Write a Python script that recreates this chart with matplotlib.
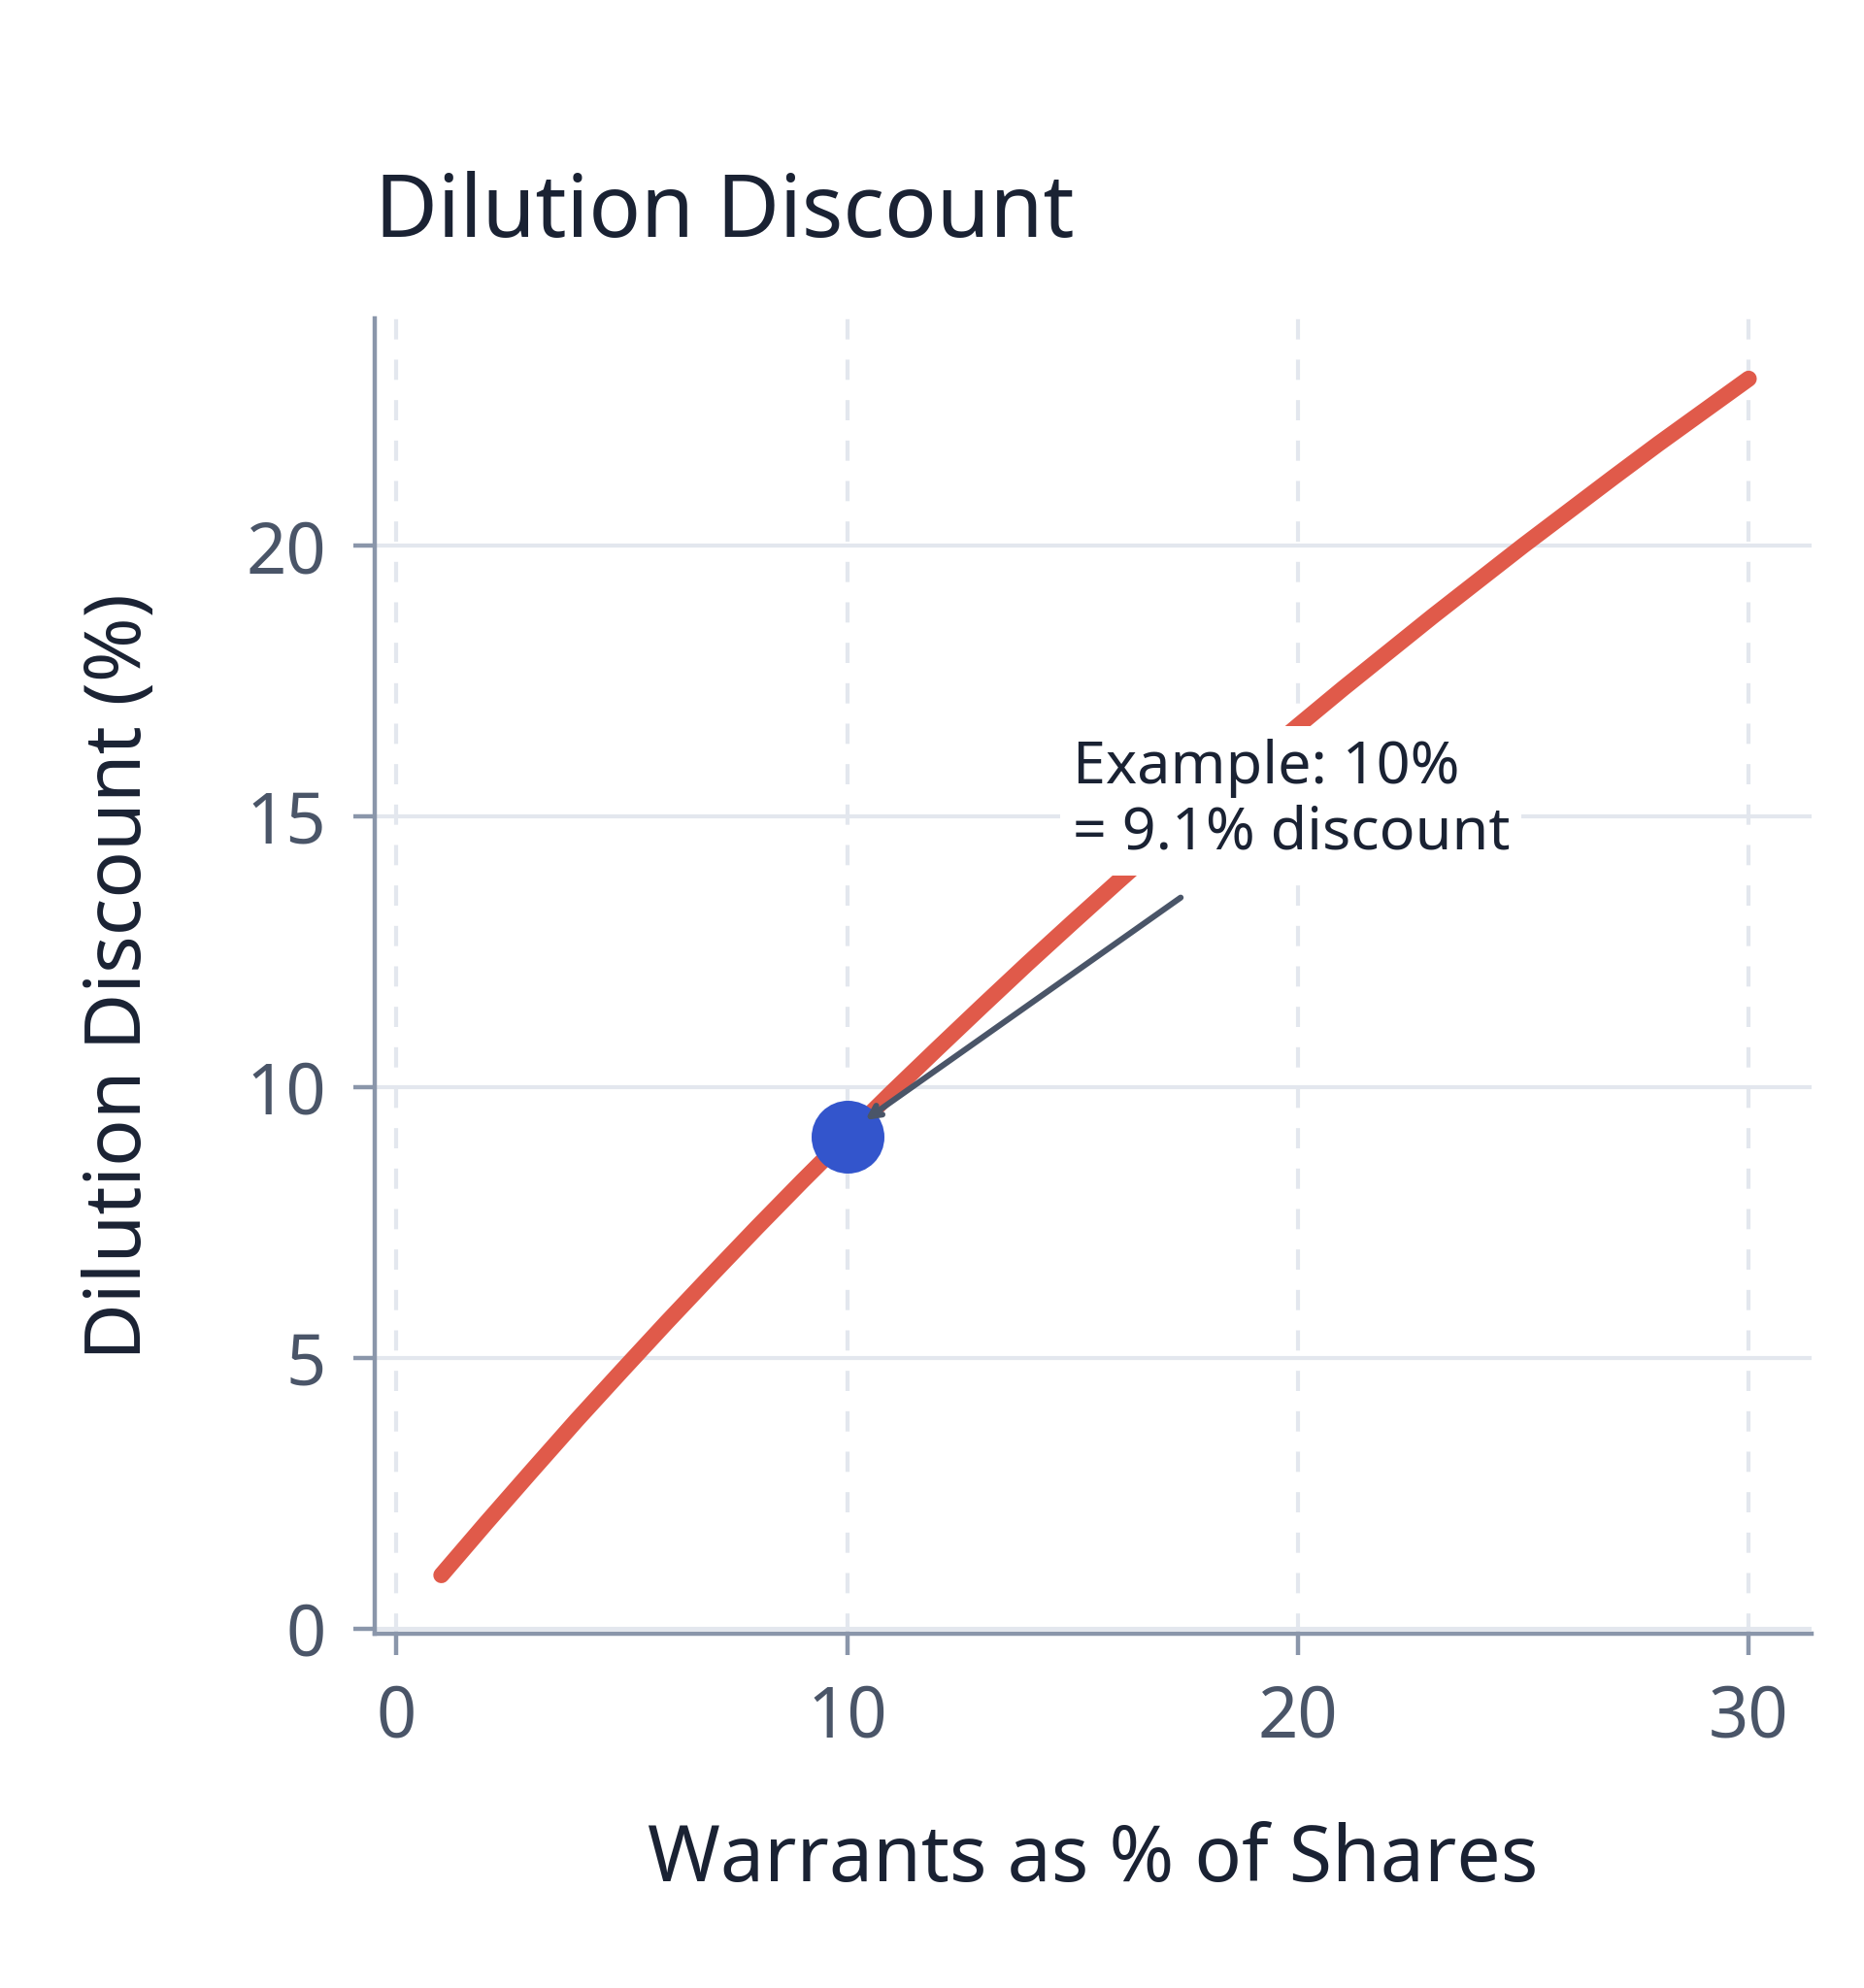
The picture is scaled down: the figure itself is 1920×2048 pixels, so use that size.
import matplotlib.pyplot as plt

plt.rcParams['font.family'] = ['Noto Sans', 'DejaVu Sans']

# values
warrants = [1, 2, 3, 4, 5, 6, 7, 8, 9, 10, 11, 12, 13, 14, 15, 16, 17, 18, 19, 20,
            21, 22, 23, 24, 25, 26, 27, 28, 29, 30]
discount = [0.99, 1.96, 2.91, 3.85, 4.76, 5.66, 6.54, 7.41, 8.26, 9.09, 9.91, 10.71,
            11.50, 12.28, 13.04, 13.79, 14.53, 15.25, 15.97, 16.67, 17.36, 18.03,
            18.70, 19.35, 20.00, 20.63, 21.26, 21.88, 22.48, 23.08]
example_x = 10
example_y = 9.09
x_ticks = [0, 10, 20, 30]
y_ticks = [0, 5, 10, 15, 20]

fig = plt.figure(figsize=(9.6, 10.24), dpi=200)
ax = fig.add_axes([0.201, 0.178, 0.771, 0.662])

ax.plot(warrants, discount, color='#e05a4a', linewidth=6, solid_capstyle='round', zorder=3)
ax.plot(example_x, example_y, 'o', color='#3355cc', markersize=26, zorder=4)

ax.set_xlim(-0.48, 31.4)
ax.set_ylim(-0.1, 24.2)
ax.set_xticks(x_ticks)
ax.set_yticks(y_ticks)

ax.grid(axis='y', color='#e3e7ee', linewidth=1.5, linestyle='-', zorder=0)
ax.grid(axis='x', color='#e3e7ee', linewidth=1.5, linestyle=(0, (5, 5)), zorder=0)

for s in ['top', 'right']:
    ax.spines[s].set_visible(False)
for s in ['left', 'bottom']:
    ax.spines[s].set_color('#8a96aa')
    ax.spines[s].set_linewidth(1.6)
ax.tick_params(colors='#8a96aa', labelcolor='#4a5568', labelsize=26, width=1.6, length=8, pad=10)

ax.set_title('Dilution Discount', fontsize=32, color='#1a2233', loc='left', pad=30)
ax.set_xlabel('Warrants as % of Shares', fontsize=29, color='#1a2233', labelpad=25)
ax.set_ylabel('Dilution Discount (%)', fontsize=29, color='#1a2233', labelpad=32)

ax.text(15, 14.4, 'Example: 10%\n= 9.1% discount', fontsize=22, color='#1a2233',
        linespacing=1.15, zorder=5,
        bbox=dict(boxstyle='square,pad=0.2', fc='white', ec='none'))
ax.annotate('', xy=(example_x + 0.4, example_y + 0.3), xytext=(17.4, 13.5),
            arrowprops=dict(arrowstyle='->', color='#4a5568', lw=2.2,
                            shrinkA=0, shrinkB=0),
            zorder=5)

fig.savefig('out.png', dpi=200)
